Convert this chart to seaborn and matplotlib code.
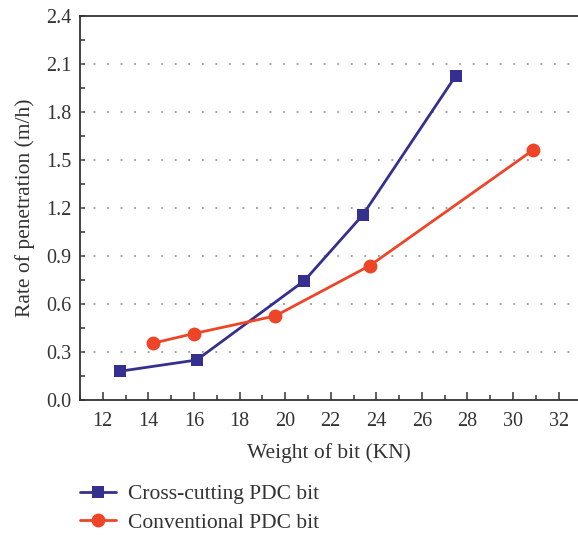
import matplotlib
matplotlib.use("Agg")
import matplotlib.pyplot as plt
import seaborn as sns
import pandas as pd
from matplotlib.ticker import MultipleLocator, FormatStrFormatter

# Data
cross_wob = [12.76, 16.12, 20.84, 23.40, 27.48]
cross_rop = [0.18, 0.25, 0.745, 1.155, 2.025]
conv_wob = [14.20, 15.99, 19.56, 23.72, 30.86]
conv_rop = [0.355, 0.415, 0.525, 0.84, 1.56]
series_names = ["Cross-cutting PDC bit", "Conventional PDC bit"]
xlabel = "Weight of bit (KN)"
ylabel = "Rate of penetration (m/h)"

sns.set_style("ticks")
plt.rcParams['font.family'] = ['Liberation Serif', 'DejaVu Serif']
plt.rcParams['mathtext.fontset'] = 'stix'

fig = plt.figure(figsize=(5.78, 5.35), dpi=100)
ax = fig.add_axes([80/578, 1-400/535, 1-80/578, (400-16)/535])

df_cross = pd.DataFrame({"x": cross_wob, "y": cross_rop})
df_conv = pd.DataFrame({"x": conv_wob, "y": conv_rop})

blue = "#35308f"
red = "#ee4528"
sns.lineplot(data=df_cross, x="x", y="y", ax=ax, color=blue, lw=2.0,
             marker="s", markersize=8.5, markeredgewidth=0,
             label=series_names[0], zorder=3)
sns.lineplot(data=df_conv, x="x", y="y", ax=ax, color=red, lw=2.0,
             marker="o", markersize=10, markeredgewidth=0,
             label=series_names[1], zorder=3)

ax.set_xlim(11.0, 32.85)
ax.set_ylim(0, 2.4)
ax.xaxis.set_major_locator(MultipleLocator(2))
ax.xaxis.set_minor_locator(MultipleLocator(1))
ax.yaxis.set_major_locator(MultipleLocator(0.3))
ax.yaxis.set_minor_locator(MultipleLocator(0.15))
ax.yaxis.set_major_formatter(FormatStrFormatter('%.1f'))

for yv in [0.3, 0.6, 0.9, 1.2, 1.5, 1.8, 2.1]:
    ax.axhline(yv, color="#999999", lw=1.3, ls=(0, (1, 6.5)), zorder=1)

spine_col = "#333333"
for s in ["left", "bottom", "top"]:
    ax.spines[s].set_color(spine_col)
    ax.spines[s].set_linewidth(1.3)
ax.spines["right"].set_visible(False)

ax.tick_params(axis="x", which="major", direction="in", length=6, width=1.1,
               color=spine_col, labelsize=14.5, labelcolor="#333333", pad=8.5)
ax.tick_params(axis="x", which="minor", direction="in", length=3.5, width=1.1,
               color=spine_col)
ax.tick_params(axis="y", which="major", direction="in", length=3.5, width=1.1,
               color=spine_col, labelsize=14.5, labelcolor="#333333", pad=6)
ax.tick_params(axis="y", which="minor", direction="in", length=3.5, width=1.1,
               color=spine_col)

ax.set_xlabel(xlabel, fontsize=15.5, color="#333333", labelpad=9)
ax.set_ylabel(ylabel, fontsize=15.5, color="#333333", labelpad=8)

handles, labels = ax.get_legend_handles_labels()
ax.legend_.remove()
fig.legend(handles, labels, loc="upper left", bbox_to_anchor=(80/578, 1-484/535),
           frameon=False, fontsize=15.5, handlelength=1.65, labelspacing=0.4,
           handletextpad=0.6, borderpad=0, borderaxespad=0,
           labelcolor="#333333")

fig.savefig("out.png", dpi=100)
